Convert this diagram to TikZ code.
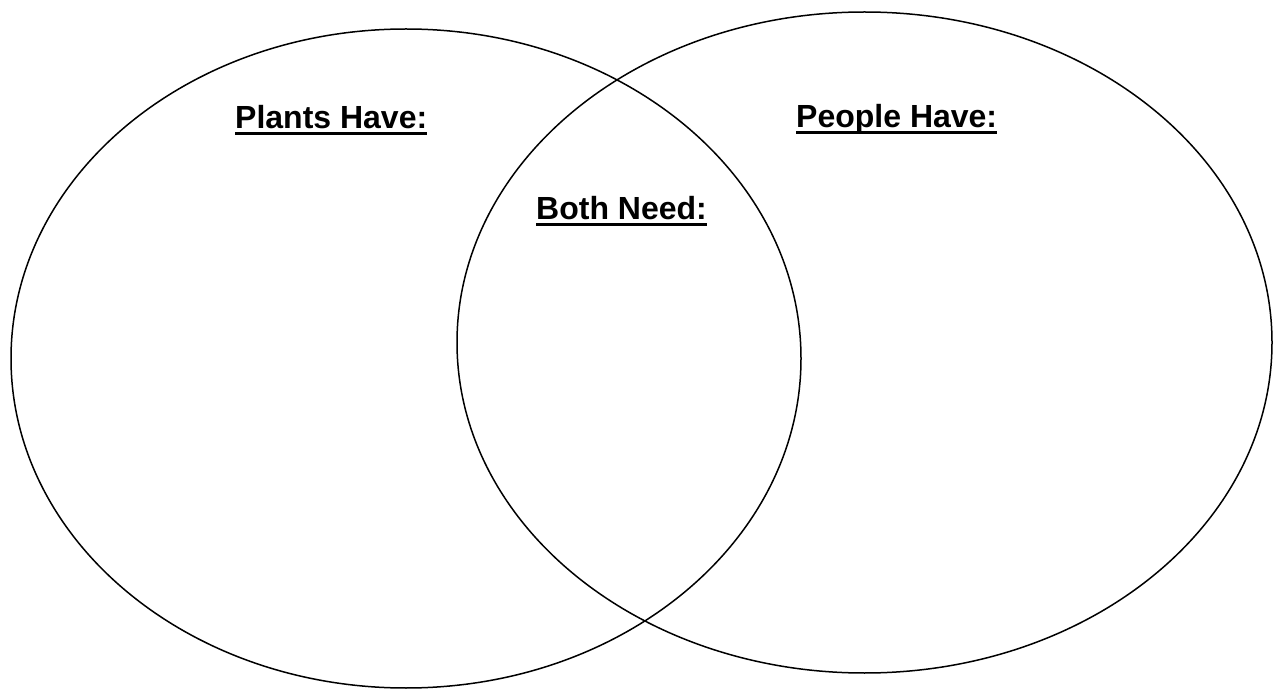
\documentclass[tikz,border=0pt]{standalone}
\usepackage{fontspec}
\setmainfont{Liberation Sans}
\begin{document}
\begin{tikzpicture}[x=1pt,y=1pt,
  ring/.style={draw=black,line width=1.5pt},
  title/.style={font=\fontsize{32}{36}\selectfont\bfseries,inner sep=0pt,anchor=base west},
  uline/.style={line width=3pt}]
\useasboundingbox (0,0) rectangle (1275,689);
\draw[ring] (406,330.5) ellipse [x radius=395, y radius=329.5];
\draw[ring] (864.5,346.5) ellipse [x radius=407.5, y radius=330.5];
\node[title] (plants) at (235,560) {Plants Have:};
\node[title] (people) at (796,561) {People Have:};
\node[title] (both) at (536,469) {Both Need:};
\foreach \n in {plants,people,both}{
  \draw[uline] ([yshift=-5pt]\n.base west) -- ([yshift=-5pt]\n.base east);
}
\end{tikzpicture}
\end{document}
